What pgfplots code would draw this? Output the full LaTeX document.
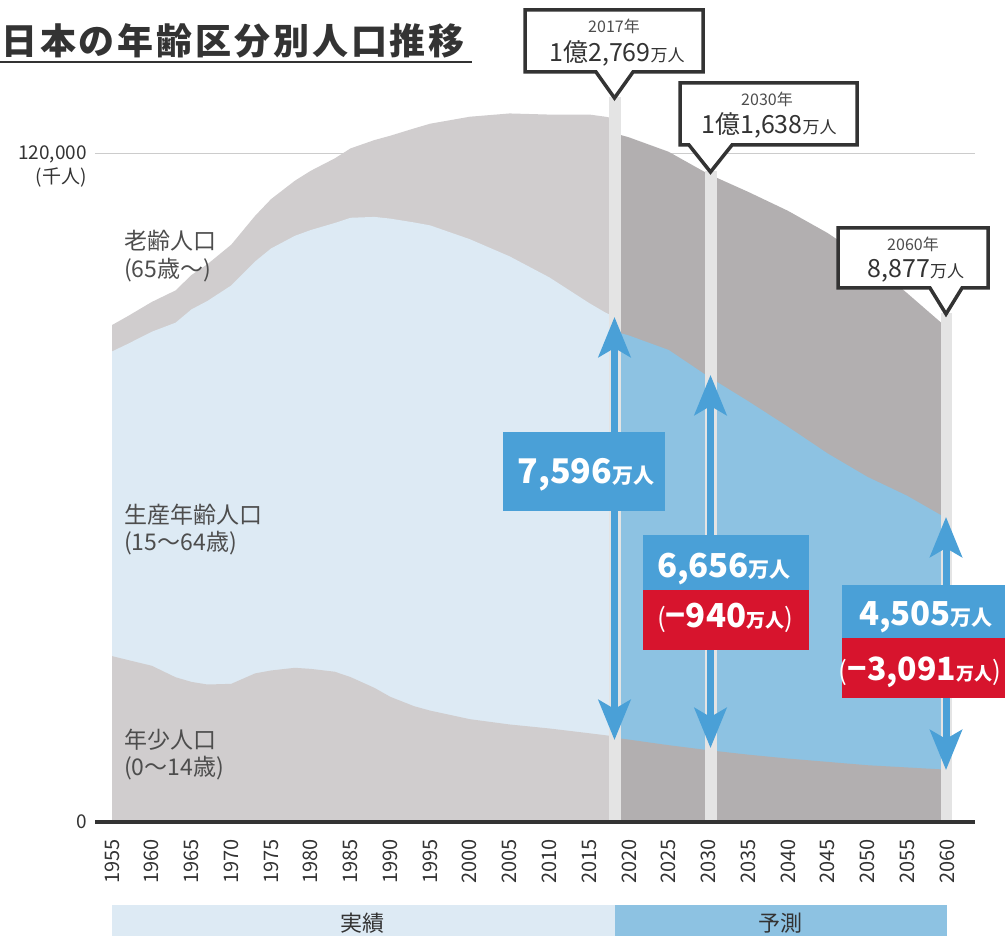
\documentclass[border=0pt]{standalone}
\usepackage{fontspec}
\setmainfont{Noto Sans CJK JP}
\usepackage{pgfplots}
\pgfplotsset{compat=1.18}
\usepackage{pgfplotstable}
\usetikzlibrary{arrows.meta}

\definecolor{oldA}{HTML}{D0CDCE}
\definecolor{workA}{HTML}{DDEAF4}
\definecolor{oldP}{HTML}{B2AFB0}
\definecolor{workP}{HTML}{8DC2E2}
\definecolor{arrowblue}{HTML}{4AA0D7}
\definecolor{boxred}{HTML}{D7142D}
\definecolor{barg}{HTML}{E4E4E4}
\definecolor{txt}{HTML}{333333}
\definecolor{lbl}{HTML}{4D4D4D}

% thousands of persons: Y = 0-14, W = 15-64, E = 65+
\pgfplotstableread{
year Y W E
1955 29798 54729 4747
1957 29100 56800 4980
1960 28067 60002 5350
1963 26000 63700 5800
1965 25166 66928 6181
1967 24700 68900 6600
1970 24823 71566 7331
1973 26700 74000 8200
1975 27221 75807 8865
1978 27700 77600 9900
1980 27507 78835 10647
1983 27000 80600 11600
1985 26033 82506 12468
1988 24100 84600 13800
1990 22486 85904 14895
1993 20800 86900 16900
1995 20014 87165 18261
2000 18472 86220 22005
2005 17521 84092 25672
2010 16803 81032 29246
2015 15945 77282 33868
2017 15592 75962 35152
2018 15415 75451 35578
}\actual

\pgfplotstableread{
year Y W E
2018.5 15100 72900 35600
2020 14800 72600 35600
2025 13800 71000 35600
2030 12900 67100 36400
2035 12100 63500 37600
2040 11400 59600 38800
2045 10800 55400 39600
2050 10200 51800 39000
2055 9800 48800 36400
2060 9400 45100 34300
}\proj

\newcommand{\fs}[1]{\fontsize{#1}{#1}\selectfont}

\begin{document}
\begin{tikzpicture}
\path[use as bounding box] (0pt,0pt) rectangle (1005pt,-936pt);

\begin{axis}[
  at={(95pt,-822pt)}, anchor=south west,
  scale only axis, width=880pt, height=723.67pt,
  xmin=1952.86, xmax=2063.53, ymin=0, ymax=130000,
  axis line style={draw=none}, tick style={draw=none},
  major tick length=0pt,
  scaled y ticks=false, scaled x ticks=false,
  /pgf/number format/assume math mode=true,
  /pgf/number format/1000 sep={},
  xtick={1955,1960,...,2060},
  ytick={0,120000}, yticklabels={0,{120,000}},
  ymajorgrids, grid style={color=black!20, line width=1pt},
  xticklabel shift=17pt,
  yticklabel shift=8pt,
  xticklabel style={rotate=90, anchor=east, inner sep=0pt,
    font=\fs{20}, text=txt},
  yticklabel style={anchor=east, inner sep=0pt,
    font=\fs{19}, text=txt},
  clip=false,
]
\addplot[fill=oldA, draw=none] table[x=year, y expr=\thisrow{Y}+\thisrow{W}+\thisrow{E}] {\actual} \closedcycle;
\addplot[fill=workA, draw=none] table[x=year, y expr=\thisrow{Y}+\thisrow{W}] {\actual} \closedcycle;
\addplot[fill=oldA, draw=none] table[x=year, y=Y] {\actual} \closedcycle;
\addplot[fill=oldP, draw=none] table[x=year, y expr=\thisrow{Y}+\thisrow{W}+\thisrow{E}] {\proj} \closedcycle;
\addplot[fill=workP, draw=none] table[x=year, y expr=\thisrow{Y}+\thisrow{W}] {\proj} \closedcycle;
\addplot[fill=oldP, draw=none] table[x=year, y=Y] {\proj} \closedcycle;
\end{axis}

\begin{scope}[x=1pt,y=-1pt]
% title
\node[anchor=base west, inner sep=0pt, text=txt, font=\fs{36}\bfseries\addfontfeatures{LetterSpace=8}] at (1,55) {日本の年齢区分別人口推移};
\draw[txt, line width=2pt] (0,62.5) -- (472,62.5);

% unit
\node[anchor=east, inner sep=0pt, text=txt, font=\fs{19}] at (87,178) {(千人)};

% series labels
\node[anchor=west, inner sep=0pt, text=lbl, font=\fs{23}] at (124,241) {老齢人口};
\node[anchor=west, inner sep=0pt, text=lbl, font=\fs{23}] at (124,270) {(65歳〜)};
\node[anchor=west, inner sep=0pt, text=lbl, font=\fs{23}] at (124,515) {生産年齢人口};
\node[anchor=west, inner sep=0pt, text=lbl, font=\fs{23}] at (124,543) {(15〜64歳)};
\node[anchor=west, inner sep=0pt, text=lbl, font=\fs{23}] at (124,740) {年少人口};
\node[anchor=west, inner sep=0pt, text=lbl, font=\fs{23}] at (124,768) {(0〜14歳)};

% vertical bars
\fill[barg] (608.5,822) rectangle (620.5,97);
\fill[barg] (704.5,822) rectangle (716.5,171);
\fill[barg] (940.5,822) rectangle (951.5,313);

% baseline
\draw[txt, line width=3.5pt] (95,822) -- (975,822);

% arrows
\tikzset{dbl/.style={arrowblue, line width=7pt,
  {Stealth[length=40pt,width=32pt,inset=9pt]}-{Stealth[length=40pt,width=32pt,inset=9pt]}}}
\draw[dbl] (614.5,740) -- (614.5,317);
\draw[dbl] (710.5,748) -- (710.5,375);
\draw[dbl] (946,770) -- (946,517);

% value boxes
\fill[arrowblue] (503,432) rectangle (665,511);
\node[anchor=base, inner sep=0pt, text=white] at (586,483) {\fs{34}\bfseries 7,596\fs{21}万人};

\fill[arrowblue] (643,535) rectangle (809,590);
\fill[boxred] (643,590) rectangle (809,650);
\node[anchor=base, inner sep=0pt, text=white] at (724,577) {\fs{33}\bfseries 6,656\fs{21}万人};
\node[anchor=base, inner sep=0pt, text=white] at (725,627) {\fs{26}(\fs{33}\bfseries −940\fs{19}万人\mdseries\fs{26})};

\fill[arrowblue] (842,585) rectangle (1005,638);
\fill[boxred] (842,638) rectangle (1005,698);
\node[anchor=base, inner sep=0pt, text=white] at (926,625) {\fs{33}\bfseries 4,505\fs{21}万人};
\node[anchor=base, inner sep=0pt, text=white] at (920,680) {\fs{26}(\fs{32}\bfseries −3,091\fs{18}万人\mdseries\fs{26})};

% callouts
\tikzset{call/.style={draw=txt, line width=3.5pt, fill=white, line join=miter}}
\draw[call] (525,10) -- (703,10) -- (703,72) -- (633,72) -- (614.5,98) -- (596,72) -- (525,72) -- cycle;
\node[anchor=base, inner sep=0pt, text=lbl, font=\fs{16}] at (614,33) {2017年};
\node[anchor=base, inner sep=0pt, text=txt] at (617,62) {\fs{25}1億2,769\fs{17}万人};

\draw[call] (680,83) -- (857,83) -- (857,145) -- (732,145) -- (710.5,172) -- (689,145) -- (680,145) -- cycle;
\node[anchor=base, inner sep=0pt, text=lbl, font=\fs{16}] at (767,106) {2030年};
\node[anchor=base, inner sep=0pt, text=txt] at (769,134) {\fs{25}1億1,638\fs{17}万人};

\draw[call] (838,228) -- (988,228) -- (988,288) -- (962,288) -- (946,314) -- (930,288) -- (838,288) -- cycle;
\node[anchor=base, inner sep=0pt, text=lbl, font=\fs{16}] at (913,251) {2060年};
\node[anchor=base, inner sep=0pt, text=txt] at (916,278) {\fs{25}8,877\fs{17}万人};

% bottom strip
\fill[workA] (112,905) rectangle (615,936);
\fill[workP] (615,905) rectangle (947,936);
\node[inner sep=0pt, text=txt, font=\fs{22}] at (362,923) {実績};
\node[inner sep=0pt, text=txt, font=\fs{22}] at (780,923) {予測};
\end{scope}
\end{tikzpicture}
\end{document}
